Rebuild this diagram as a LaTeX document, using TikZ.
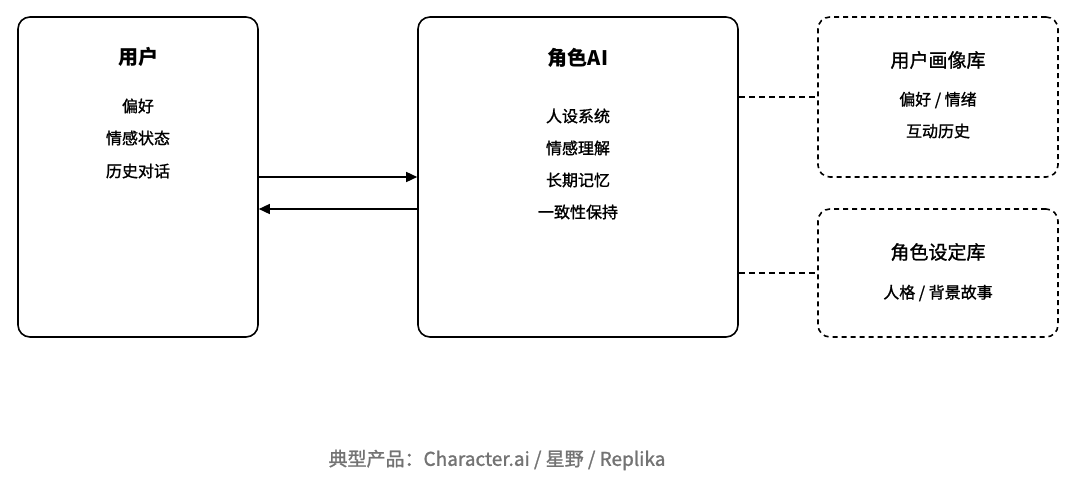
\documentclass[tikz,border=0pt]{standalone}
\usepackage{fontspec}
\setmainfont{Noto Sans CJK SC}
\newfontfamily\medfont[FakeBold=1.2]{Noto Sans CJK SC}
\usetikzlibrary{arrows.meta}
\begin{document}
\begin{tikzpicture}[x=1pt,y=-1pt,
  box/.style={draw,line width=1.6pt,rounded corners=12pt,inner sep=0},
  dbox/.style={draw,line width=1.6pt,dashed,dash pattern=on 5pt off 4pt,rounded corners=12pt,inner sep=0},
  ttl/.style={font=\fontsize{20}{24}\selectfont\bfseries},
  txt/.style={font=\fontsize{16}{19}\selectfont\medfont},
  sub/.style={font=\fontsize{19}{22}\selectfont\medfont},
  arr/.style={line width=1.5pt,-{Triangle[length=11pt,width=10pt]}},
  dl/.style={line width=1.5pt,dash pattern=on 6pt off 4pt}]
\useasboundingbox (0,0) rectangle (1080,480);
\node[box,minimum width=240pt,minimum height=320pt] (u) at (138,177) {};
\node[box,minimum width=320pt,minimum height=320pt] (c) at (578,177) {};
\node[dbox,minimum width=240pt,minimum height=160pt] (p) at (938,97) {};
\node[dbox,minimum width=240pt,minimum height=128pt] (r) at (938,273) {};
\node[ttl] (ut) at (138,57) {用户};
\node[txt] (u1) at (138,106) {偏好};
\node[txt] (u2) at (138,138) {情感状态};
\node[txt] (u3) at (138,171) {历史对话};
\node[ttl] (ct) at (578,58) {角色AI};
\node[txt] (c1) at (578,116) {人设系统};
\node[txt] (c2) at (578,148) {情感理解};
\node[txt] (c3) at (578,180) {长期记忆};
\node[txt] (c4) at (578,212) {一致性保持};
\node[sub] (pt) at (938,60) {用户画像库};
\node[txt] (p1) at (938,100) {偏好 / 情绪};
\node[txt] (p2) at (938,131) {互动历史};
\node[sub] (rt) at (938,252) {角色设定库};
\node[txt] (r1) at (938,293) {人格 / 背景故事};
\draw[arr] (u.east|-0,177) -- (c.west|-0,177);
\draw[arr] (c.west|-0,209) -- (u.east|-0,209);
\draw[dl] (c.east|-0,97) -- (p.west);
\draw[dl] (c.east|-0,273) -- (r.west);
\node[font=\fontsize{19}{22}\selectfont\medfont,text=black!55] (f) at (497,460) {典型产品：Character.ai / 星野 / Replika};
\end{tikzpicture}
\end{document}
